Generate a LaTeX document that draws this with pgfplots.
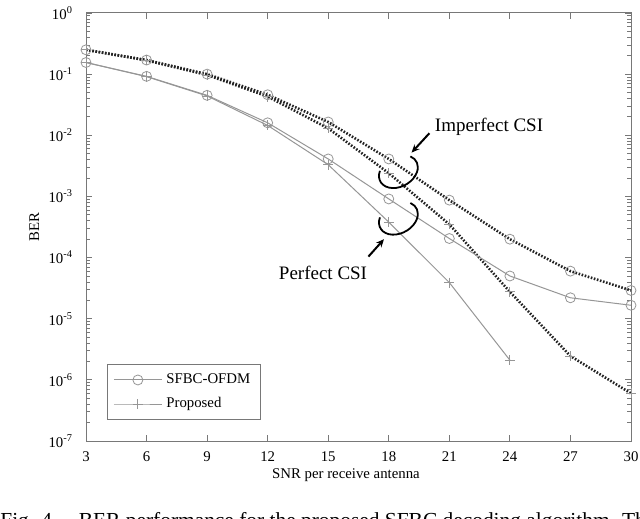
\documentclass[border=0pt]{standalone}
\usepackage{fontspec}
\setmainfont{Liberation Serif}
\usepackage{pgfplots}
\pgfplotsset{compat=1.18}
\usetikzlibrary{arrows.meta}
\definecolor{ln}{RGB}{150,150,150}
\definecolor{ax}{RGB}{120,120,120}
\definecolor{dk}{RGB}{35,35,35}
\newcommand{\tickfont}{\fontsize{7.4}{8.5}\selectfont}
\newcommand{\annfont}{\fontsize{9.5}{11}\selectfont}
\begin{document}
\begin{tikzpicture}[x=1pt,y=1pt]
\useasboundingbox (-43,-38.5) rectangle (277,220.5);
\begin{scope}
\clip (-43,-38.5) rectangle (277,220.5);
\begin{axis}[
  scale only axis, width=272.5pt, height=214pt,
  at={(0,0)}, anchor=south west,
  xmin=3, xmax=30, ymode=log, ymin=1e-7, ymax=1,
  xtick={3,6,9,12,15,18,21,24,27,30},
  ytick={1e-7,1e-6,1e-5,1e-4,1e-3,1e-2,1e-1,1},
  yticklabels={10\textsuperscript{-7},10\textsuperscript{-6},10\textsuperscript{-5},10\textsuperscript{-4},10\textsuperscript{-3},10\textsuperscript{-2},10\textsuperscript{-1},10\textsuperscript{0}},
  /pgf/number format/assume math mode=true,
  tick label style={font=\tickfont, text=black},
  xticklabel style={yshift=-2pt},
  yticklabel style={xshift=-3pt},
  axis line style={ax, line width=0.5pt},
  every tick/.style={ax, line width=0.4pt},
  major tick length=3pt, minor tick length=1.8pt,
  tick align=inside,
  xlabel={SNR per receive antenna}, ylabel={BER},
  every axis x label/.style={at={(axis description cs:0.477,-0.080)}, anchor=center, font=\tickfont},
  every axis y label/.style={at={(axis description cs:-0.095,0.5)}, rotate=90, anchor=center, font=\tickfont},
  legend style={at={(0.0385,0.049)}, anchor=south west, draw=ax, line width=0.4pt,
    font=\tickfont, inner xsep=3pt, inner ysep=2.5pt, row sep=1.5pt},
  legend cell align=left,
  legend image code/.code={\draw[mark repeat=2,mark phase=2,#1] plot coordinates {(0pt,0pt) (12pt,0pt) (24pt,0pt)};},
]
% imperfect CSI, SFBC-OFDM
\addplot[dk, line width=1.3pt, dash pattern=on 0.8pt off 0.8pt, mark=o, mark size=2.5pt,
  mark options={solid, ln, line width=0.4pt}, forget plot] coordinates {
(3,0.25) (6,0.17) (9,0.10) (12,0.046) (15,0.0165) (18,0.0041) (21,0.00087) (24,0.0002) (27,6e-5) (30,2.9e-5)};
% imperfect CSI, proposed
\addplot[dk, line width=1.3pt, dash pattern=on 0.8pt off 0.8pt, mark=+, mark size=2.5pt,
  mark options={solid, ln, line width=0.4pt}, forget plot] coordinates {
(3,0.25) (6,0.168) (9,0.097) (12,0.043) (15,0.013) (18,0.0024) (21,0.00035) (24,2.75e-5) (27,2.45e-6) (30,6e-7)};
% perfect CSI, SFBC-OFDM
\addplot[ln, line width=0.5pt, mark=o, mark size=2.5pt, mark options={solid, line width=0.4pt}] coordinates {
(3,0.155) (6,0.092) (9,0.045) (12,0.016) (15,0.0041) (18,0.00091) (21,0.000205) (24,5e-5) (27,2.2e-5) (30,1.66e-5)};
\addlegendentry{SFBC-OFDM}
% perfect CSI, proposed
\addplot[ln, line width=0.5pt, mark=+, mark size=2.5pt, mark options={solid, line width=0.4pt}] coordinates {
(3,0.155) (6,0.091) (9,0.044) (12,0.0145) (15,0.0033) (18,0.00038) (21,3.9e-5) (24,2.1e-6)};
\addlegendentry{Proposed}
\end{axis}
% annotations
\node[font=\annfont] at (201.5,157) {Imperfect CSI};
\draw[line width=1pt, -{Stealth[length=4pt,width=3.5pt]}] (171.7,153.9) -- (162.8,144.2);
\draw[line width=0.9pt, rotate around={29:(156.2,134.7)}] ([shift={(140:10.3pt and 7.5pt)}]156.2,134.7) arc[start angle=140, end angle=390, x radius=10.3pt, y radius=7.5pt];
\node[font=\annfont] at (118.5,84) {Perfect CSI};
\draw[line width=1pt, -{Stealth[length=4pt,width=3.5pt]}] (141.2,92.2) -- (149,100.9);
\draw[line width=0.9pt, rotate around={29:(156.2,111.4)}] ([shift={(140:10.3pt and 7.5pt)}]156.2,111.4) arc[start angle=140, end angle=390, x radius=10.3pt, y radius=7.5pt];
% cropped caption at the bottom edge
\node[anchor=base west, font=\fontsize{10.7}{12}\selectfont, inner sep=0pt] at (-43,-43) {Fig. 4.\quad BER performance for the proposed SFBC decoding algorithm. The};
\end{scope}
\end{tikzpicture}
\end{document}
